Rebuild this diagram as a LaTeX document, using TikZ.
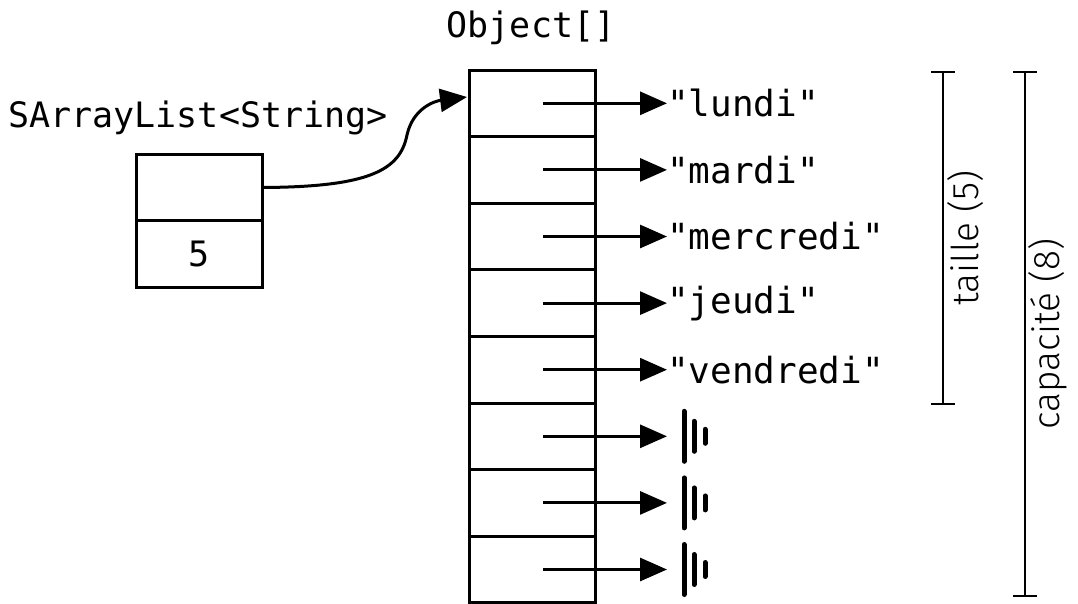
\documentclass[tikz,border=0pt]{standalone}
\usepackage{fontspec}
\setmonofont{DejaVu Sans Mono}
\newfontfamily\lightsf{Fira Sans Light}
\usetikzlibrary{arrows.meta}
\tikzset{
  cell/.style={draw, line width=3pt, minimum width=126pt, minimum height=66.6pt, inner sep=0pt, outer sep=0pt},
  ptr/.style={line width=3pt, -{Triangle[length=27pt,width=23pt]}},
  str/.style={anchor=west, inner sep=0pt, font=\fontsize{36}{36}\selectfont\ttfamily},
  lbl/.style={inner sep=0pt, font=\fontsize{35}{36}\selectfont\ttfamily},
  dim/.style={line width=2.8pt},
  bar/.style={line width=5pt, line cap=round},
  side/.style={inner sep=0pt, rotate=90, font=\fontsize{37}{37}\selectfont\lightsf}
}
\begin{document}
\begin{tikzpicture}[x=1pt, y=-1pt]
\useasboundingbox (0,0) rectangle (1078,603);

% the list object
\node[lbl] (listname) at (198,118) {SArrayList<String>};
\node[cell] (ref) at (199,187.5) {};
\node[cell, font=\fontsize{35}{35}\selectfont\ttfamily] (size) at (199,254) {5};

% backing array
\node[lbl] (arrname) at (531,28) {Object[]};
\foreach \i in {1,...,8} {
  \node[cell] (c\i) at (532,{70+66.6*(\i-0.5)}) {};
}

% array slots pointing to strings
\foreach \i/\w in {1/lundi,2/mardi,3/mercredi,4/jeudi,5/vendredi} {
  \node[str] (s\i) at (667,{70+66.6*(\i-0.5)}) {"\w"};
  \draw[ptr] ([xshift=11pt]c\i.center) -- (s\i.west);
}

% empty slots pointing to null
\foreach \i in {6,7,8} {
  \coordinate (g\i) at (667,{70+66.6*(\i-0.5)});
  \draw[ptr] ([xshift=11pt]c\i.center) -- (g\i);
  \draw[bar] ([xshift=17pt,yshift=-25pt]g\i) -- ([xshift=17pt,yshift=25pt]g\i);
  \draw[bar] ([xshift=27pt,yshift=-15pt]g\i) -- ([xshift=27pt,yshift=15pt]g\i);
  \draw[bar] ([xshift=38pt,yshift=-7pt]g\i) -- ([xshift=38pt,yshift=7pt]g\i);
}

% reference from the list to its array
\coordinate (arrin) at (467,97);
\coordinate (bend) at (407,135);
\draw[ptr] (ref.east) .. controls (370,187) and (400,170) .. (bend)
  .. controls (413,108) and (435,101) .. (arrin);

% size and capacity brackets
\coordinate (t1) at (943,72);
\coordinate (t2) at (943,404);
\draw[dim] (t1) -- (t2);
\draw[dim] ([xshift=-12pt]t1) -- ([xshift=12pt]t1);
\draw[dim] ([xshift=-12pt]t2) -- ([xshift=12pt]t2);
\node[side] (taille) at (966,238) {taille (5)};

\coordinate (k1) at (1025,72);
\coordinate (k2) at (1025,596);
\draw[dim] (k1) -- (k2);
\draw[dim] ([xshift=-12pt]k1) -- ([xshift=12pt]k1);
\draw[dim] ([xshift=-12pt]k2) -- ([xshift=12pt]k2);
\node[side] (capa) at (1048,334) {capacité (8)};
\end{tikzpicture}
\end{document}
